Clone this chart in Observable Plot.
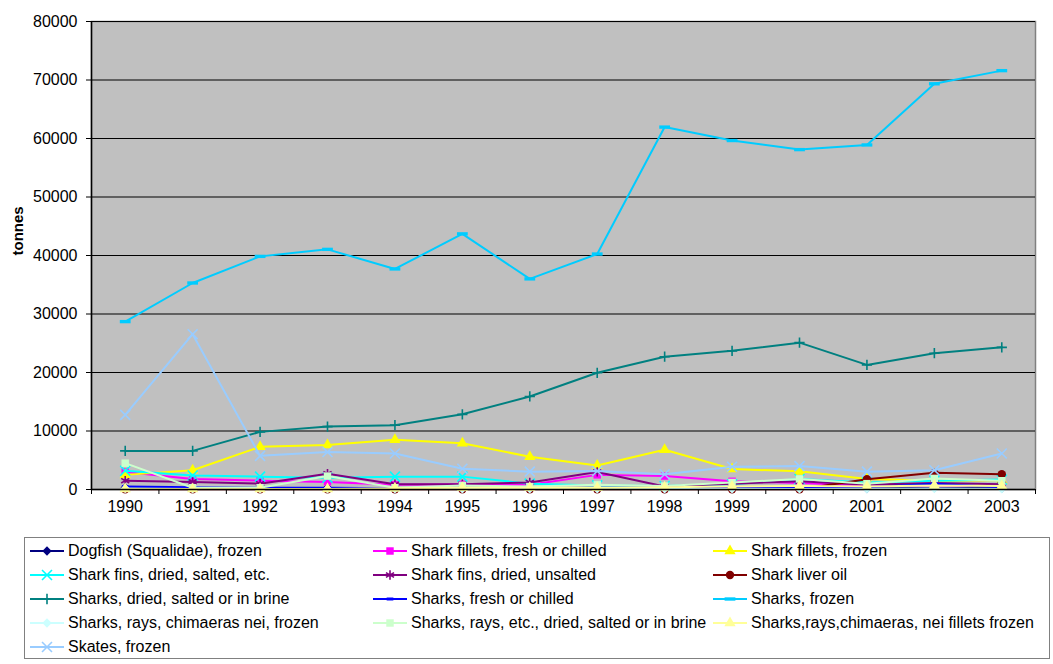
<!DOCTYPE html>
<html>
<head>
<meta charset="utf-8">
<script src="https://cdn.jsdelivr.net/npm/d3@7"></script>
<script src="https://cdn.jsdelivr.net/npm/@observablehq/plot@0.6"></script>
<style>
  body { margin: 0; background: #fff; font-family: "Liberation Sans", Arial, sans-serif; }
  #chart svg { display: block; }
  #legend {
    position: absolute; left: 24px; top: 537px; width: 1026px; height: 122px;
    border: 1.5px solid #808080; box-sizing: border-box;
    display: grid; grid-template-columns: 343px 340px auto; grid-auto-rows: 24px;
    padding: 1px 0 0 5px; font-size: 16px; color: #000;
  }
  .item { display: flex; align-items: center; white-space: nowrap; }
  .item svg { flex: none; margin-right: 4px; }
</style>
</head>
<body>
<div id="chart"></div>
<div id="legend"></div>
<script>
// Years on the category axis
const years = [1990, 1991, 1992, 1993, 1994, 1995, 1996, 1997, 1998, 1999, 2000, 2001, 2002, 2003];

// Y-axis ticks (tonnes)
const yTicks = [0, 10000, 20000, 30000, 40000, 50000, 60000, 70000, 80000];

// Series names, in legend order
const seriesNames = [
  "Dogfish (Squalidae), frozen",
  "Shark fillets, fresh or chilled",
  "Shark fillets, frozen",
  "Shark fins, dried, salted, etc.",
  "Shark fins, dried, unsalted",
  "Shark liver oil",
  "Sharks, dried, salted or in brine",
  "Sharks, fresh or chilled",
  "Sharks, frozen",
  "Sharks, rays, chimaeras nei, frozen",
  "Sharks, rays, etc., dried, salted or in brine",
  "Sharks,rays,chimaeras, nei fillets frozen",
  "Skates, frozen"
];

// Quantities per series (tonnes), 1990–2003
const dogfishFrozen      = [300, 200, 200, 150, 100, 150, 200, 150, 100, 100, 200, 150, 300, 200];
const filletsFresh       = [3000, 1800, 1500, 1300, 800, 900, 800, 2500, 2300, 1400, 1100, 700, 600, 600];
const filletsFrozen      = [2500, 3300, 7300, 7600, 8500, 7900, 5600, 4100, 6800, 3500, 3100, 1800, 1500, 1600];
const finsSalted         = [3200, 2400, 2200, 2000, 2200, 2200, 1000, 700, 600, 900, 1800, 1200, 1500, 1700];
const finsUnsalted       = [1500, 1300, 1000, 2700, 900, 900, 1200, 3000, 500, 1000, 1400, 800, 1100, 900];
const liverOil           = [50, 50, 50, 50, 50, 50, 50, 50, 50, 50, 50, 1750, 2850, 2600];
const sharksDried        = [6600, 6600, 9850, 10750, 11000, 12850, 15900, 19950, 22700, 23700, 25100, 21300, 23300, 24300];
const sharksFresh        = [500, 400, 300, 300, 200, 300, 200, 300, 400, 300, 300, 400, 1000, 400];
const sharksFrozen       = [28700, 35300, 39850, 41050, 37700, 43700, 36000, 40250, 61950, 59650, 58100, 58900, 69350, 71600];
const srcFrozen          = [150, 100, 100, 100, 100, 100, 100, 100, 100, 100, 100, 100, 150, 100];
const sreDried           = [4500, 300, 300, 2300, 300, 700, 500, 800, 600, 1200, 1800, 1000, 1900, 1500];
const srcFilletsFrozen   = [100, 100, 100, 100, 200, 300, 300, 300, 400, 500, 600, 500, 700, 600];
const skatesFrozen       = [12750, 26550, 5750, 6400, 6150, 3550, 3050, 3150, 2600, 3900, 4000, 3050, 3300, 6150];

const seriesValues = [
  dogfishFrozen, filletsFresh, filletsFrozen, finsSalted, finsUnsalted, liverOil,
  sharksDried, sharksFresh, sharksFrozen, srcFrozen, sreDried, srcFilletsFrozen, skatesFrozen
];

// Horizontal bar markers
const dash = {draw(ctx, size) { const w = Math.sqrt(size) * 1.45, h = Math.sqrt(size) * 0.45; ctx.rect(-w / 2, -h / 2, w, h); }};
const smallDash = {draw(ctx, size) { const w = Math.sqrt(size) * 0.9, h = Math.sqrt(size) * 0.4; ctx.rect(-w / 2, -h / 2, w, h); }};

// Line colour, marker shape, marker radius and whether the marker is filled
const styles = [
  {color: "#000080", symbol: d3.symbolDiamond2, r: 4.2, filled: true},
  {color: "#FF00FF", symbol: d3.symbolSquare, r: 4.2, filled: true},
  {color: "#FFFF00", symbol: d3.symbolTriangle, r: 4.2, filled: true},
  {color: "#00FFFF", symbol: d3.symbolTimes, r: 4.6, filled: false},
  {color: "#800080", symbol: d3.symbolAsterisk, r: 4.4, filled: false},
  {color: "#800000", symbol: d3.symbolCircle, r: 4.2, filled: true},
  {color: "#008080", symbol: d3.symbolPlus, r: 3.4, filled: false},
  {color: "#0000FF", symbol: smallDash, r: 4.2, filled: true},
  {color: "#00CCFF", symbol: dash, r: 4.2, filled: true},
  {color: "#CCFFFF", symbol: d3.symbolDiamond2, r: 4.2, filled: true},
  {color: "#CCFFCC", symbol: d3.symbolSquare, r: 4.2, filled: true},
  {color: "#FFFF99", symbol: d3.symbolTriangle, r: 4.2, filled: true},
  {color: "#99CCFF", symbol: d3.symbolTimes, r: 4.6, filled: false}
];

const bounds = years.map(y => y - 0.5).concat([years[years.length - 1] + 0.5]);

const seriesMarks = seriesNames.flatMap((name, i) => {
  const rows = years.map((year, j) => ({year, value: seriesValues[i][j], name}));
  const s = styles[i];
  return [
    Plot.line(rows, {x: "year", y: "value", stroke: s.color, strokeWidth: 2}),
    Plot.dot(rows, s.filled
      ? {x: "year", y: "value", symbol: () => s.symbol, r: s.r, fill: s.color, stroke: "none"}
      : {x: "year", y: "value", symbol: () => s.symbol, r: s.r, stroke: s.color, strokeWidth: 1.6, fill: "none"})
  ];
});

const chart = Plot.plot({
  width: 1053,
  height: 530,
  marginLeft: 91,
  marginRight: 18,
  marginTop: 21,
  marginBottom: 41,
  style: {fontFamily: "'Liberation Sans', Arial, sans-serif", fontSize: "16px", color: "#000", background: "#fff"},
  x: {type: "linear", domain: [bounds[0], bounds[bounds.length - 1]]},
  y: {domain: [0, 80000]},
  symbol: {type: "identity"},
  marks: [
    Plot.frame({fill: "#C0C0C0", stroke: "#808080", strokeWidth: 1.5}),
    Plot.ruleY(yTicks.slice(1), {stroke: "#000", strokeWidth: 1}),
    ...seriesMarks,
    Plot.ruleX([bounds[0]], {stroke: "#000", strokeWidth: 1.5}),
    Plot.ruleY([0], {stroke: "#000", strokeWidth: 1.5}),
    Plot.axisY(yTicks, {tickSize: 5, tickPadding: 9, tickFormat: d => String(d), label: null, stroke: "#000"}),
    Plot.axisX(years, {tickSize: 0, tickPadding: 11, tickFormat: d => String(d), label: null}),
    Plot.axisX(bounds, {tickSize: 5, tickFormat: () => "", label: null, stroke: "#000"}),
    Plot.text(["tonnes"], {frameAnchor: "left", rotate: -90, dx: -73, fontWeight: "bold", fontSize: 15})
  ]
});
document.getElementById("chart").append(chart);

// Legend: line swatch with its marker, then the series name
const legend = d3.select("#legend");
seriesNames.forEach((name, i) => {
  const s = styles[i];
  const item = legend.append("div").attr("class", "item");
  const svg = item.append("svg").attr("width", 34).attr("height", 14);
  svg.append("line").attr("x1", 0).attr("x2", 34).attr("y1", 7).attr("y2", 7)
    .attr("stroke", s.color).attr("stroke-width", 2);
  svg.append("path").attr("transform", "translate(17,7)")
    .attr("d", d3.symbol(s.symbol, Math.PI * s.r ** 2)())
    .attr("fill", s.filled ? s.color : "none")
    .attr("stroke", s.filled ? "none" : s.color)
    .attr("stroke-width", 1.6);
  item.append("span").text(name);
});
</script>
</body>
</html>
